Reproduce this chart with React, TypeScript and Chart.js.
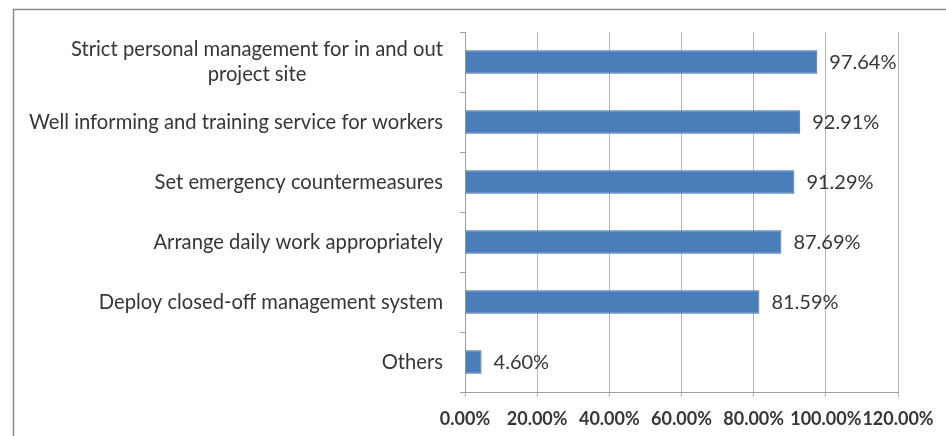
import React, { useEffect, useRef } from 'react';
import { Chart, registerables } from 'chart.js';

Chart.register(...registerables);

const categories: (string | string[])[] = [
  ['Strict personal management for in and out', 'project site'],
  'Well informing and training service for workers',
  'Set emergency countermeasures',
  'Arrange daily work appropriately',
  'Deploy closed-off management system',
  'Others',
];
const values = [97.64, 92.91, 91.29, 87.69, 81.59, 4.6];
const xMin = 0;
const xMax = 120;
const xStep = 20;

const FONT = 'Lato, "Liberation Sans", sans-serif';
const TEXT = '#363636';

const framePlugin = {
  id: 'frame',
  beforeDraw(chart: any) {
    const ctx = chart.ctx;
    ctx.save();
    ctx.fillStyle = '#ffffff';
    ctx.fillRect(0, 0, chart.width, chart.height);
    ctx.strokeStyle = '#8a8a8a';
    ctx.lineWidth = 1.5;
    ctx.strokeRect(13.5, 9.5, 1200, 1200);
    ctx.restore();
  },
};

const yLabelPlugin = {
  id: 'yLabels',
  afterDraw(chart: any) {
    const ctx = chart.ctx;
    const y = chart.scales.y;
    const right = chart.chartArea.left - 22;
    ctx.save();
    ctx.font = `20.2px ${FONT}`;
    ctx.fillStyle = TEXT;
    ctx.textBaseline = 'middle';
    ctx.textAlign = 'center';
    categories.forEach((lab, i) => {
      const lines = Array.isArray(lab) ? lab : [lab];
      const w = Math.max(...lines.map((l) => ctx.measureText(l).width));
      const cx = right - w / 2;
      const cy = y.getPixelForValue(i);
      const lh = 25;
      lines.forEach((l, j) => {
        ctx.fillText(l, cx, cy + (j - (lines.length - 1) / 2) * lh);
      });
    });
    ctx.restore();
  },
};

const valueLabelPlugin = {
  id: 'valueLabels',
  afterDatasetsDraw(chart: any) {
    const ctx = chart.ctx;
    const meta = chart.getDatasetMeta(0);
    ctx.save();
    ctx.font = `20px ${FONT}`;
    ctx.fillStyle = TEXT;
    ctx.textBaseline = 'middle';
    ctx.textAlign = 'left';
    meta.data.forEach((bar: any, i: number) => {
      ctx.fillText(values[i].toFixed(2) + '%', bar.x + 12, bar.y + 1);
    });
    ctx.restore();
  },
};

export default function App() {
  const ref = useRef<HTMLCanvasElement>(null);
  useEffect(() => {
    if (!ref.current) return;
    const chart = new Chart(ref.current, {
      type: 'bar',
      data: {
        labels: categories as any,
        datasets: [
          {
            data: values,
            backgroundColor: '#4A7EBB',
            borderColor: '#3B6AA3',
            borderWidth: 1,
            barPercentage: 0.39,
            categoryPercentage: 1,
          },
        ],
      },
      options: {
        indexAxis: 'y',
        animation: false,
        responsive: false,
        maintainAspectRatio: false,
        layout: { padding: { left: 0, top: 32, right: 48, bottom: 0 } },
        plugins: { legend: { display: false }, tooltip: { enabled: false } },
        scales: {
          x: {
            min: xMin,
            max: xMax,
            ticks: {
              stepSize: xStep,
              color: TEXT,
              font: { family: FONT, size: 18, weight: 'bold' },
              padding: 11,
              maxRotation: 0,
              autoSkip: false,
              callback: (v: any) => Number(v).toFixed(2) + '%',
            },
            grid: { color: '#b5b5b5', tickLength: 5, lineWidth: 1 },
            border: { color: '#a0a0a0' },
            afterFit: (s: any) => {
              s.height = 44;
            },
          },
          y: {
            ticks: { display: false },
            grid: { drawOnChartArea: false, tickLength: 5, color: '#a0a0a0', offset: true },
            border: { color: '#a0a0a0' },
            afterFit: (s: any) => {
              s.width = 465;
            },
          },
        },
      },
      plugins: [framePlugin, yLabelPlugin, valueLabelPlugin],
    });
    return () => chart.destroy();
  }, []);
  return (
    <div style={{ position: 'absolute', left: 0, top: 0, width: 946, height: 436 }}>
      <canvas ref={ref} width={946} height={436} style={{ width: 946, height: 436 }} />
    </div>
  );
}
